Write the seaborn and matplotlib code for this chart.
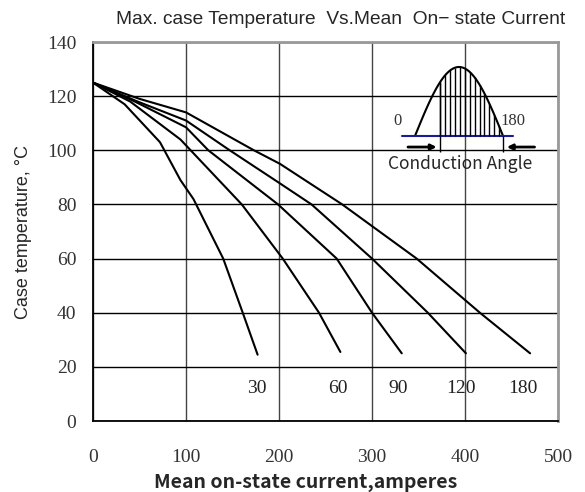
import numpy as np
import pandas as pd
import matplotlib.pyplot as plt
import seaborn as sns

# Max case temperature vs mean on-state current, one curve per conduction angle
angles = [30, 60, 90, 120, 180]
current_30 = [0, 34, 72, 94, 108, 124, 140, 161, 177]
temp_30 = [125, 117, 103, 89, 82, 71, 60, 40, 24.5]
current_60 = [0, 40, 94, 160, 204, 243, 266]
temp_60 = [125, 118, 104, 80, 60, 40, 25.5]
current_90 = [0, 45, 100, 124, 199, 262, 300, 332]
temp_90 = [125, 118, 108.5, 100, 80, 60, 40, 25]
current_120 = [0, 48, 100, 147, 200, 235, 300, 360, 401]
temp_120 = [125, 118, 111, 100, 88, 80, 60, 40, 25]
current_180 = [0, 50, 100, 173, 201, 268, 348, 416, 470]
temp_180 = [125, 119, 114, 100, 95, 80, 60, 40, 25]

# curve labels (x position, y position) in data units
label_x = [176, 263, 328, 396, 462]
label_y = 12

x_ticks = [0, 100, 200, 300, 400, 500]
y_ticks = [0, 20, 40, 60, 80, 100, 120, 140]

# inset: conduction angle sketch (degrees)
cond_start = 52
cond_end = 180
hatch_step = 10

currents = [current_30, current_60, current_90, current_120, current_180]
temps = [temp_30, temp_60, temp_90, temp_120, temp_180]
rows = []
for a, cs, ts in zip(angles, currents, temps):
    for c, t in zip(cs, ts):
        rows.append({"angle": a, "current": c, "temp": t})
df = pd.DataFrame(rows)

sns.set_style("white")
serif = "Liberation Serif"
sans = "Liberation Sans"
cjk = "Noto Sans CJK SC"

W, H = 585, 492
fig = plt.figure(figsize=(W / 100, H / 100), dpi=100)
ax = fig.add_axes([93 / W, 1 - 421 / H, 465 / W, 379 / H])

sns.lineplot(data=df, x="current", y="temp", hue="angle", units="angle",
             estimator=None, sort=False, palette=["black"] * len(angles),
             linewidth=1.5, legend=False, ax=ax)

ax.set_xlim(0, 500)
ax.set_ylim(0, 140)
ax.set_xticks(x_ticks)
ax.set_yticks(y_ticks)
ax.set_xticklabels([str(v) for v in x_ticks], family=serif, fontsize=14)
ax.set_yticklabels([str(v) for v in y_ticks], family=serif, fontsize=14)
ax.tick_params(axis="x", length=0, pad=20, colors="#333333")
ax.tick_params(axis="y", length=0, pad=12, colors="#333333")
for t in ax.get_yticklabels():
    t.set_verticalalignment("center_baseline")
ax.xaxis.grid(True, color="#444444", linewidth=1.0)
ax.yaxis.grid(True, color="black", linewidth=1.0)
for side in ["left", "bottom"]:
    ax.spines[side].set_color("black")
    ax.spines[side].set_linewidth(1.3)
for side in ["top", "right"]:
    ax.spines[side].set_color("#999999")
    ax.spines[side].set_linewidth(2)
ax.set_xlabel("")
ax.set_ylabel("")

for a, lx in zip(angles, label_x):
    ax.text(lx, label_y, str(a), ha="center", va="center",
            family=serif, fontsize=14, color="#222222")

fig.text(341 / W, 1 - 19 / H,
         "Max. case Temperature  Vs.Mean  On\u2212 state Current",
         ha="center", va="center", family=sans, fontsize=13.8)
fig.text(24 / W, 1 - 232 / H, "Case temperature, \u00b0C", rotation=90,
         ha="center", va="center", family=sans, fontsize=13)
fig.text(306 / W, 1 - 483 / H, "Mean on-state current,amperes",
         ha="center", va="center", family=cjk,
         fontweight="bold", fontsize=14)

# inset sketch
ins = fig.add_axes([400.3 / W, 1 - 177.4 / H, 115 / W, 124.2 / H])
ins.set_xlim(-30, 205)
ins.set_ylim(-0.6, 1.2)
ins.axis("off")
theta = np.linspace(0, 180, 91)
ins.plot(theta, np.sin(np.radians(theta)), color="black", lw=1.5)
ins.plot([-27, 200], [0, 0], color="#1a1a9a", lw=1.5)
hx = np.arange(cond_start, cond_end, hatch_step)
ins.vlines(hx, 0, np.sin(np.radians(hx)), color="black", lw=1.0)
ins.vlines([cond_start, cond_end], -0.23, [np.sin(np.radians(cond_start)), 0],
           color="black", lw=1.0)
ins.annotate("", xy=(cond_start - 2, -0.16), xytext=(-20, -0.16),
             arrowprops=dict(arrowstyle="-|>", color="black", lw=2,
                             mutation_scale=8), annotation_clip=False)
ins.annotate("", xy=(cond_end + 2, -0.16), xytext=(250, -0.16),
             arrowprops=dict(arrowstyle="-|>", color="black", lw=2,
                             mutation_scale=8), annotation_clip=False)
ins.text(-35, 0.22, "0", ha="center", va="center", family=serif,
         fontsize=12, color="#333333", clip_on=False)
ins.text(200, 0.22, "180", ha="center", va="center", family=serif,
         fontsize=12, color="#333333", clip_on=False)
ins.text(92, -0.41, "Conduction Angle", ha="center", va="center",
         family=cjk, fontweight="medium", fontsize=12.5,
         clip_on=False)

fig.savefig("out.png", dpi=100)
